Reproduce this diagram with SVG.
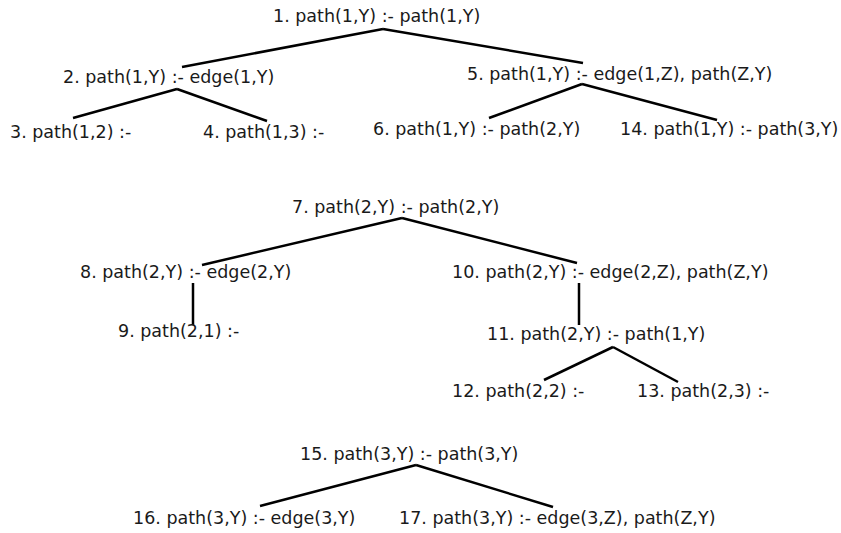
<svg xmlns="http://www.w3.org/2000/svg" width="841" height="533" viewBox="0 0 841 533">
<style>
text{font-family:"DejaVu Sans",Verdana,sans-serif;font-size:17.5px;fill:#1a1a1a}
line{stroke:#000;stroke-width:2.5;stroke-linecap:butt}
</style>
<rect width="841" height="533" fill="#fff"/>
<g id="connectors">
<line x1="383" y1="29" x2="182" y2="67"/>
<line x1="383" y1="29" x2="583" y2="63"/>
<line x1="177" y1="89" x2="73" y2="118"/>
<line x1="177" y1="89" x2="267" y2="121"/>
<line x1="582" y1="84" x2="489" y2="118"/>
<line x1="582" y1="84" x2="717" y2="120"/>
<line x1="402" y1="218" x2="202" y2="265"/>
<line x1="402" y1="218" x2="577" y2="263"/>
<line x1="193" y1="283" x2="193" y2="325"/>
<line x1="579" y1="283" x2="579" y2="325"/>
<line x1="613" y1="347" x2="544" y2="380"/>
<line x1="613" y1="347" x2="678" y2="382"/>
<line x1="416" y1="465" x2="260" y2="506"/>
<line x1="416" y1="465" x2="553" y2="507"/>
</g>
<g id="n1"><text x="273" y="22">1. path(1,Y) :- path(1,Y)</text></g>
<g id="n2"><text x="63" y="83">2. path(1,Y) :- edge(1,Y)</text></g>
<g id="n3"><text x="10" y="138">3. path(1,2) :-</text></g>
<g id="n4"><text x="203" y="138">4. path(1,3) :-</text></g>
<g id="n5"><text x="467" y="80">5. path(1,Y) :- edge(1,Z), path(Z,Y)</text></g>
<g id="n6"><text x="373" y="135">6. path(1,Y) :- path(2,Y)</text></g>
<g id="n14"><text x="620" y="135">14. path(1,Y) :- path(3,Y)</text></g>
<g id="n7"><text x="292" y="213">7. path(2,Y) :- path(2,Y)</text></g>
<g id="n8"><text x="80" y="278">8. path(2,Y) :- edge(2,Y)</text></g>
<g id="n9"><text x="118" y="337">9. path(2,1) :-</text></g>
<g id="n10"><text x="452" y="278">10. path(2,Y) :- edge(2,Z), path(Z,Y)</text></g>
<g id="n11"><text x="487" y="340">11. path(2,Y) :- path(1,Y)</text></g>
<g id="n12"><text x="452" y="397">12. path(2,2) :-</text></g>
<g id="n13"><text x="637" y="397">13. path(2,3) :-</text></g>
<g id="n15"><text x="300" y="460">15. path(3,Y) :- path(3,Y)</text></g>
<g id="n16"><text x="133" y="524">16. path(3,Y) :- edge(3,Y)</text></g>
<g id="n17"><text x="399" y="524">17. path(3,Y) :- edge(3,Z), path(Z,Y)</text></g>
</svg>
